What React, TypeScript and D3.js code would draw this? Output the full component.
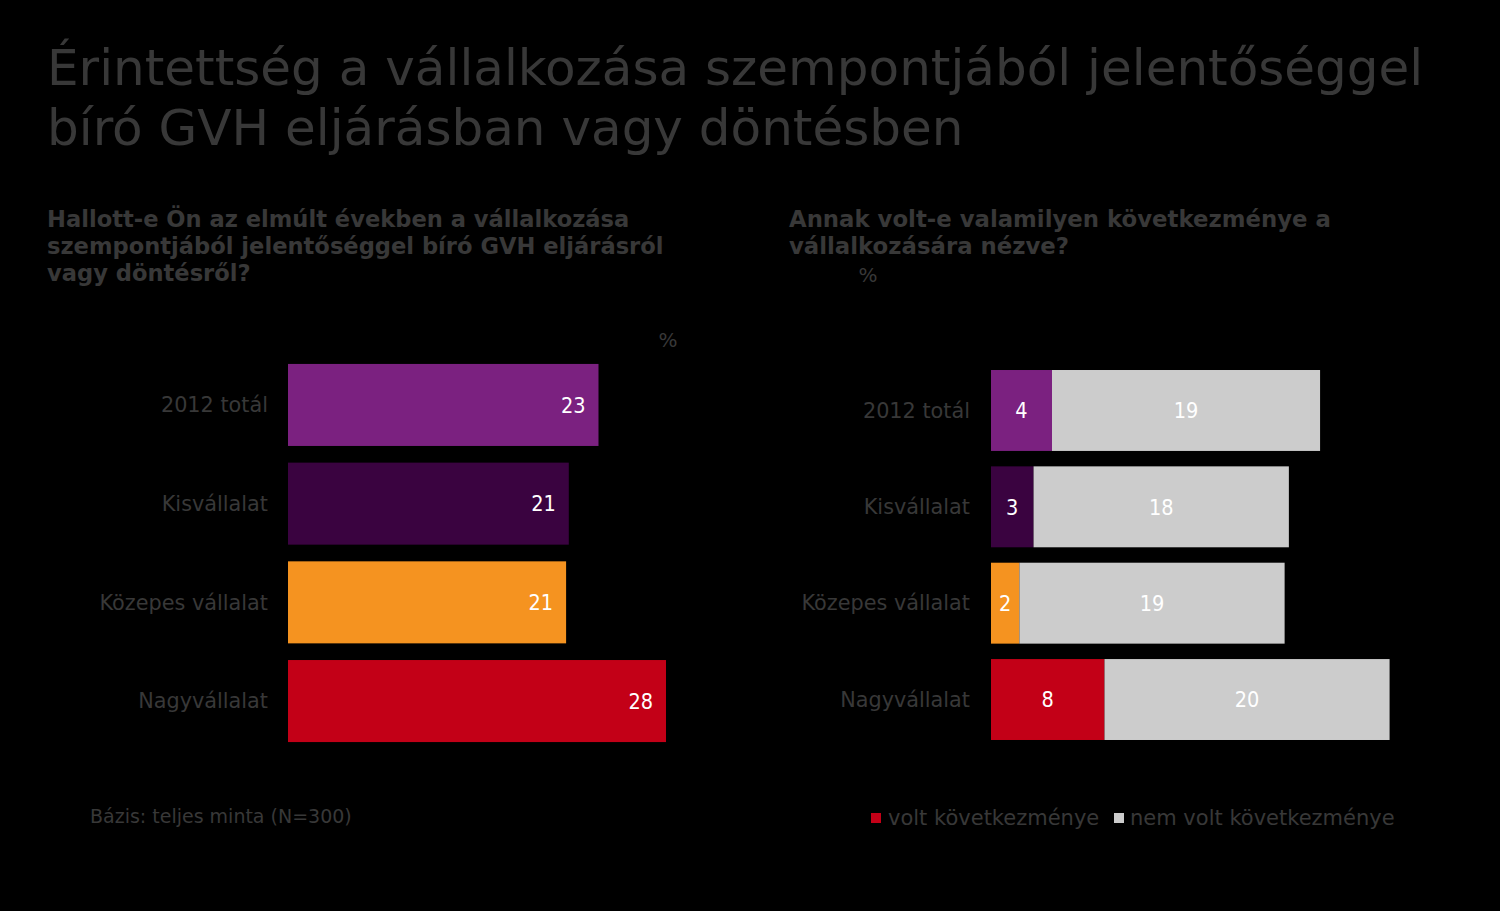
import React from "react";
import * as d3 from "d3";

const categories = ["2012 totál", "Kisvállalat", "Közepes vállalat", "Nagyvállalat"];
const heardValues = [23.0, 20.8, 20.6, 28.0];
const hadConsequence = [4.3, 3.0, 2.0, 8.0];
const noConsequence = [18.9, 18.0, 18.7, 20.1];
const categoryColors = ["#7B2180", "#3A0340", "#F59320", "#C30017"];
const greyColor = "#CCCCCC";
const legendLabels = ["volt következménye", "nem volt következménye"];
const legendColors = ["#C30017", "#CCCCCC"];

const titleLines = [
  "Érintettség a vállalkozása szempontjából jelentőséggel",
  "bíró GVH eljárásban vagy döntésben",
];
const leftSubtitle = [
  "Hallott-e Ön az elmúlt években a vállalkozása",
  "szempontjából jelentőséggel bíró GVH eljárásról",
  "vagy döntésről?",
];
const rightSubtitle = ["Annak volt-e valamilyen következménye a", "vállalkozására nézve?"];
const footnote = "Bázis: teljes minta (N=300)";

const FONT = "'DejaVu Sans', sans-serif";
const VALUE_FONT = "'DejaVu Sans Condensed', 'DejaVu Sans', sans-serif";
const TEXT = "#383838";

export default function App() {
  const W = 1500;
  const H = 911;
  const fmt = d3.format(".0f");

  const yLeft = d3.scaleBand<string>().domain(categories).range([355.6, 750.4]).paddingInner(0.169).paddingOuter(0.0845);
  const xLeft = d3.scaleLinear().domain([0, 28]).range([288, 666]);

  const yRight = d3.scaleBand<string>().domain(categories).range([362.3, 747.7]).paddingInner(0.16).paddingOuter(0.08);
  const xRight = d3.scaleLinear().domain([0, 28.2]).range([991, 1391]);

  return (
    <svg width={W} height={H} style={{ position: "absolute", left: 0, top: 0, background: "#000" }} fontFamily={FONT}>
      <rect x={0} y={0} width={W} height={H} fill="#000" />
      {titleLines.map((t, i) => (
        <text key={i} x={47} y={85 + i * 60} fontSize={50} fill={TEXT}>{t}</text>
      ))}
      {leftSubtitle.map((t, i) => (
        <text key={i} x={47} y={227 + i * 27} fontSize={22.6} fontWeight="bold" fill={TEXT}>{t}</text>
      ))}
      {rightSubtitle.map((t, i) => (
        <text key={i} x={789} y={227 + i * 27} fontSize={22.8} fontWeight="bold" fill={TEXT}>{t}</text>
      ))}
      <text x={668} y={347} fontSize={20} fill={TEXT} textAnchor="middle">%</text>
      <text x={868} y={282} fontSize={20} fill={TEXT} textAnchor="middle">%</text>

      {/* left chart */}
      <g>
        {categories.map((c, i) => {
          const y0 = yLeft(c)!;
          const bw = yLeft.bandwidth();
          return (
            <g key={c}>
              <text x={268} y={y0 + bw / 2} dy="0.35em" fontSize={20.8} fill={TEXT} textAnchor="end">{c}</text>
              <rect x={xLeft(0)} y={y0} width={xLeft(heardValues[i]) - xLeft(0)} height={bw} fill={categoryColors[i]} />
              <text x={xLeft(heardValues[i]) - 13} y={y0 + bw / 2} dy="0.36em" fontSize={21.5} fontFamily={VALUE_FONT} fill="#fff" textAnchor="end">{fmt(heardValues[i])}</text>
            </g>
          );
        })}
      </g>

      {/* right chart */}
      <g>
        {categories.map((c, i) => {
          const y0 = yRight(c)!;
          const bw = yRight.bandwidth();
          const a = hadConsequence[i];
          const b = noConsequence[i];
          return (
            <g key={c}>
              <text x={970} y={y0 + bw / 2} dy="0.35em" fontSize={20.8} fill={TEXT} textAnchor="end">{c}</text>
              <rect x={xRight(0)} y={y0} width={xRight(a) - xRight(0)} height={bw} fill={categoryColors[i]} />
              <rect x={xRight(a)} y={y0} width={xRight(a + b) - xRight(a)} height={bw} fill={greyColor} />
              <text x={(xRight(0) + xRight(a)) / 2} y={y0 + bw / 2} dy="0.36em" fontSize={21.5} fontFamily={VALUE_FONT} fill="#fff" textAnchor="middle">{fmt(a)}</text>
              <text x={(xRight(a) + xRight(a + b)) / 2} y={y0 + bw / 2} dy="0.36em" fontSize={21.5} fontFamily={VALUE_FONT} fill="#fff" textAnchor="middle">{fmt(b)}</text>
            </g>
          );
        })}
      </g>

      <text x={90} y={823} fontSize={19} fill={TEXT}>{footnote}</text>

      {/* legend */}
      <g>
        <rect x={871} y={813} width={10} height={10} fill={legendColors[0]} />
        <text x={888} y={825} fontSize={21} fill={TEXT}>{legendLabels[0]}</text>
        <rect x={1114} y={813} width={10} height={10} fill={legendColors[1]} />
        <text x={1130} y={825} fontSize={21} fill={TEXT}>{legendLabels[1]}</text>
      </g>
    </svg>
  );
}
